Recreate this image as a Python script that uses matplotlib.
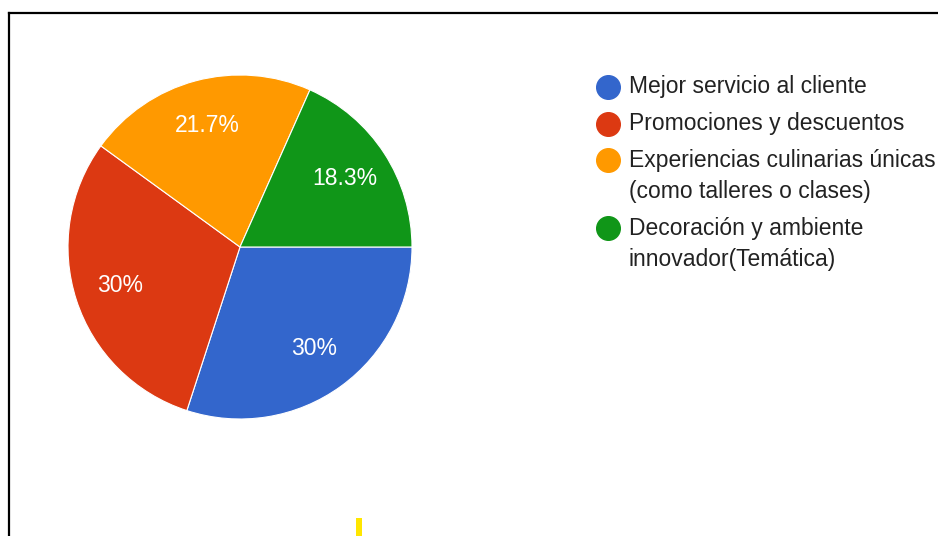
import matplotlib.pyplot as plt
from matplotlib.lines import Line2D
from matplotlib.patches import Rectangle

# survey answers (60 responses)
categories = [
    "Mejor servicio al cliente",
    "Promociones y descuentos",
    "Experiencias culinarias únicas\n(como talleres o clases)",
    "Decoración y ambiente\ninnovador(Temática)",
]
counts = [18, 18, 13, 11]
colors = ["#3366cc", "#dc3912", "#ff9900", "#109618"]

plt.rcParams["font.family"] = ["Liberation Sans", "DejaVu Sans"]

W, H = 938, 536
fig = plt.figure(figsize=(W / 100, H / 100), dpi=100)
fig.patch.set_facecolor("white")

# pie axes: centre (240, 247) px, radius 172 px
cx, cy, r = 240, 247, 172
ax = fig.add_axes([(cx - r) / W, (H - cy - r) / H, 2 * r / W, 2 * r / H])


def fmt_pct(p):
    s = f"{p:.1f}"
    return (s[:-2] if s.endswith(".0") else s) + "%"


wedges, autotexts = ax.pie(
    counts, colors=colors, startangle=0, counterclock=False,
    autopct=fmt_pct, pctdistance=0.73,
    wedgeprops=dict(edgecolor="white", linewidth=0.8),
    textprops=dict(color="white", fontsize=16.5),
)[0::2]
ax.set_xlim(-1, 1)
ax.set_ylim(-1, 1)
ax.set_aspect("equal")
ax.axis("off")

# legend drawn by hand: dot + label lines
lx_dot, lx_txt = 607.5, 629
y = 87
for label, col in zip(categories, colors):
    fig.add_artist(Line2D([lx_dot / W], [1 - y / H], marker="o", markersize=17,
                          color=col, linestyle="none"))
    for i, line in enumerate(label.split("\n")):
        fig.text(lx_txt / W, 1 - (y + i * 31.5) / H, line, fontsize=16.5,
                 color="#222222", va="center", ha="left")
    y += 36.5 + 31.5 * label.count("\n")

# frame around the chart
fig.add_artist(Line2D([9 / W, 9 / W], [0, 1 - 12.5 / H], color="black", lw=1.6))
fig.add_artist(Line2D([9 / W, 1], [1 - 12.5 / H, 1 - 12.5 / H], color="black", lw=1.6))

# small yellow mark at the bottom edge
fig.add_artist(Rectangle((356 / W, 0), 6 / W, 18 / H, transform=fig.transFigure,
                         facecolor="#ffe600", edgecolor="none"))

fig.savefig("out.png", dpi=100)
